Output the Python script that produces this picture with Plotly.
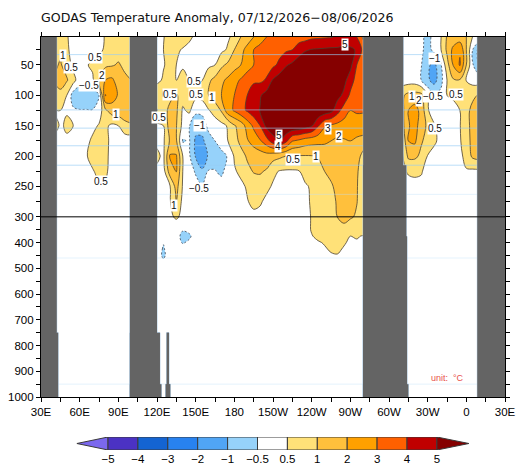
# GODAS equatorial temperature anomaly, longitude-depth section
import numpy as np
import plotly.graph_objects as go

TITLE = 'GODAS Temperature Anomaly, 07/12/2026−08/06/2026'
FONT = 'Liberation Sans'

# contour levels and the band colours between them (one more band than levels)
LEVELS = [-5, -4, -3, -2, -1, -0.5, 0.5, 1, 2, 3, 4, 5]
LEVEL_TEXT = ['−5', '−4', '−3', '−2', '−1', '−0.5', '0.5', '1', '2', '3', '4', '5']
BAND_COLORS = ['#7b68ee', '#4b32c3', '#1464d2', '#2882f0', '#50a5f5', '#96d2fa', '#ffffff',
               '#ffe178', '#ffc03c', '#ffa000', '#ff6000', '#c00000', '#850000']

# depth rows (m) shared by the three basins
DEPTHS = [4, 25, 50, 75, 100, 125, 150, 175, 200, 225, 250, 275,
          300, 325, 350, 375, 400, 425, 450, 475]
BOTTOM_DEPTH = 1000

INDIAN_LON = list(range(40, 105, 5))
INDIAN_Z = [
    [.7, .8, .55, .1, 0, 0, 0, .1, .55, .7, .7, .7, .7],
    [.8, .9, .6, .1, 0, 0, 0, .2, .6, .8, .8, .7, .7],
    [.9, 1.1, .8, .2, 0, .4, .6, .8, .9, .95, 1.1, .9, .8],
    [1.0, 1.3, 1.1, .7, -.1, -.2, .3, 1.0, 2.0, 2.2, 1.5, 1.2, 1.0],
    [.8, .9, .5, -.75, -.8, -.8, -.8, -.5, 3.05, 2.5, 1.9, 1.4, 1.3],
    [.5, .5, .45, -.35, -.45, -.45, -.45, -.1, .9, 1.5, 1.6, 1.8, 2.05],
    [.7, .4, .55, .5, 0, 0, .2, .55, .6, .3, .5, .8, .9],
    [.2, 0, .4, .35, 0, .2, .6, .8, .7, .1, 0, 0, 0],
    [0, 0, 0, 0, 0, .4, .7, .8, .65, .1, 0, 0, 0],
    [0, 0, 0, 0, 0, .1, .4, .65, .6, .1, 0, 0, 0],
    [0, 0, 0, 0, 0, 0, .1, .3, .3, 0, 0, 0, 0],
    [0, 0, 0, 0, 0, 0, 0, 0, 0, 0, 0, 0, 0],
]

PACIFIC_LON = list(range(120, 285, 5))
PACIFIC_Z = [
    [.3, .45, .7, .8, .8, .6, .3, .1, 0, .1, .2, .4, .6, 1.0, 1.5, 2.0, 2.6, 3.0, 3.2, 3.3,
     3.4, 3.5, 3.55, 3.6, 3.8, 3.85, 3.9, 3.95, 4.1, 4.3, 4.3, 4.0, 2.8],
    [.5, .5, .7, .6, .4, .2, .1, 0, 0, .1, .3, .55, 1.0, 1.7, 2.3, 3.0, 3.3, 3.5, 3.6, 3.7,
     3.85, 4.0, 4.5, 4.9, 5.05, 5.1, 5.15, 5.2, 5.2, 5.3, 5.2, 4.9, 3.7],
    [.2, .45, .6, .5, .3, 0, 0, .1, .3, .5, .9, 1.2, 1.6, 2.0, 2.5, 3.0, 3.4, 3.6, 3.8, 4.2,
     4.9, 5.2, 5.6, 5.8, 5.9, 5.9, 5.9, 5.8, 5.8, 5.7, 5.3, 4.0, 3.5],
    [.3, .55, .7, .45, .75, .5, .3, .48, .9, 1.3, 1.8, 2.2, 2.7, 3.1, 3.6, 3.85, 3.8, 4.1, 5.1, 5.6,
     5.8, 5.9, 6, 6, 6, 6, 6, 5.9, 5.7, 5.3, 4.5, 3.6, 3.3],
    [.8, .45, .8, 1.15, .7, .65, .65, .7, 1.0, 1.5, 2.0, 2.5, 3.0, 3.5, 4.0, 4.5, 4.9, 5.4, 5.8, 6,
     6, 6, 6, 6, 6, 6, 5.9, 5.7, 5.3, 4.8, 3.8, 3.2, 3.0],
    [1.05, .7, 1.4, 1.2, .35, .6, -.3, -.3, .42, .7, 1.1, 2.6, 3.1, 3.7, 4.1, 4.6, 5.05, 5.5, 5.8, 6,
     6, 6, 6, 5.9, 5.9, 5.8, 5.6, 5.3, 4.4, 3.5, 3.0, 3.1, 3.1],
    [.3, .5, 1.5, 1.05, .2, -.45, -.8, -.7, -.3, 0, .2, .55, .95, 1.4, 2.4, 3.2, 4.0, 5.3, 5.8, 5.9,
     5.9, 5.9, 5.8, 5.5, 5.1, 4.1, 3.1, 2.85, 2.7, 2.6, 2.95, 2.6, 2.5],
    [.3, .35, 1.1, 1.1, -.55, -.4, -1.2, -1.3, -.65, -.5, -.2, .5, .85, 1.2, 1.9, 2.4, 2.9, 3.6, 4.5, 5.0,
     4.3, 3.05, 2.8, 2.5, 2.4, 2.3, 2.2, 2.0, 1.8, 1.9, 2.0, 1.8, 1.7],
    [.6, .3, 2.1, 2.1, .5, -.35, -1.1, -1.5, -.95, -.7, -.6, -.45, .55, .85, 1.1, 1.4, 1.5, 1.6, 1.4, 1.2,
     1.0, .97, .97, .97, .98, 1.05, 1.3, 1.4, 1.5, 1.6, 1.6, 1.5, .8],
    [.3, .1, 1.5, 2.05, .5, -.1, -.55, -.95, -.4, -.45, -.6, -.1, .4, .6, .9, 1.05, 1.1, .95, .6, .45,
     .4, .4, .45, .65, .75, .85, 1.0, 1.2, 1.4, 1.5, 1.4, 1.1, .8],
    [0, 0, .4, 1.4, .4, 0, -.2, -.4, -.1, -.1, -.1, 0, .1, .3, .55, .8, .8, .6, .4, .2,
     .1, .1, .2, .4, .55, .65, .8, .95, 1.2, 1.4, 1.3, 1.05, .8],
    [0, 0, .4, 1.0, .2, 0, 0, -.1, 0, 0, 0, 0, 0, .1, .45, .6, .55, .3, .1, 0,
     0, 0, .1, .3, .55, .65, .75, .85, 1.1, 1.3, 1.25, 1.03, .8],
    [0, 0, .1, .65, 0, 0, 0, 0, 0, 0, 0, 0, 0, 0, .2, .3, .25, .1, 0, 0,
     0, 0, 0, .3, .52, .6, .7, .8, 1.02, 1.2, 1.1, .95, .8],
    [0, 0, 0, 0, 0, 0, 0, 0, 0, 0, 0, 0, 0, 0, 0, 0, 0, 0, 0, 0,
     0, 0, 0, .3, .52, .6, .65, .7, .8, 1.0, .9, .8, .7],
    [0, 0, 0, 0, -.4, -.2, 0, 0, 0, 0, 0, 0, 0, 0, 0, 0, 0, 0, 0, 0,
     0, 0, 0, .3, .52, .6, .65, .7, .75, .75, .7, .65, .65],
    [0, 0, 0, 0, -.7, -.6, 0, 0, 0, 0, 0, 0, 0, 0, 0, 0, 0, 0, 0, 0,
     0, 0, 0, .2, .47, .56, .6, .65, .65, .6, .5, .52, .47],
    [0, -.45, 0, 0, -.55, -.3, 0, 0, 0, 0, 0, 0, 0, 0, 0, 0, 0, 0, 0, 0,
     0, 0, 0, 0, .3, .45, .52, .6, .6, .53, .4, .45, .5],
    [0, -.55, 0, 0, 0, 0, 0, 0, 0, 0, 0, 0, 0, 0, 0, 0, 0, 0, 0, 0,
     0, 0, 0, 0, 0, .3, .45, .53, .55, .45, .2, .2, .3],
    [0, -.6, 0, 0, 0, 0, 0, 0, 0, 0, 0, 0, 0, 0, 0, 0, 0, 0, 0, 0,
     0, 0, 0, 0, 0, 0, .2, .45, .47, .3, 0, 0, 0],
    [0, -.3, 0, 0, 0, 0, 0, 0, 0, 0, 0, 0, 0, 0, 0, 0, 0, 0, 0, 0,
     0, 0, 0, 0, 0, 0, 0, 0, 0, 0, 0, 0, 0],
]

ATLANTIC_LON = list(range(310, 375, 5))
ATLANTIC_Z = [
    [0, 0, 0, -.3, -.65, -.2, .4, 1.1, 1.3, 1.4, 1.0, .45, .2],
    [0, 0, 0, -.3, -.7, -.2, .4, 1.2, 2.3, 2.9, 1.0, -.5, -1.4],
    [0, 0, 0, -.45, -.9, -1.3, -.6, .8, 2.1, 3.1, 1.0, -.4, -1.2],
    [0, 0, 0, -.5, -.9, -1.4, -.7, .5, .95, .95, .45, .1, 0],
    [.9, 1.3, 1.4, 1.3, .5, -.4, -.2, .5, .6, .6, .7, .9, 1.1],
    [.8, 2.0, 2.4, 1.7, .55, 0, 0, 0, .1, .5, .85, 1.3, 1.5],
    [.8, 1.9, 2.4, 1.5, .9, .55, .1, 0, 0, .45, .85, 1.3, 1.5],
    [.5, 2.0, 2.2, 1.1, .85, .6, .2, 0, 0, .4, .8, 1.3, 1.5],
    [.3, 1.2, 1.2, .9, .45, .1, 0, 0, 0, .2, .7, 1.2, 1.4],
    [.3, .55, .6, .55, .1, 0, 0, 0, 0, 0, .4, .3, .3],
    [0, .2, .2, .2, 0, 0, 0, 0, 0, 0, 0, 0, 0],
]

# land columns: west, east, top depth, bottom depth
LAND_W = [30, 30, 99, 99, 99, 127.5, 126.7, 280, 280, 280, 280, 368.5]
LAND_E = [42.2, 43.3, 120, 122.3, 123.4, 129.3, 130.3, 311, 313.4, 314, 315, 390]
LAND_TOP = [0, 750, 0, 750, 950, 750, 950, 0, 215, 375, 950, 0]
LAND_BOT = [1000, 1000, 1000, 1000, 1000, 1000, 1000, 1000, 1000, 1000, 1000, 1000]
LAND_COLOR = '#646464'
LAND_EDGE = '#b4cfe6'

# model levels that show up as pale lines across the section
PALE_DEPTHS = [33, 124, 154, 183, 215]
FAINT_DEPTHS = [263, 460, 950]

LABEL_LON = [47, 53.5, 72, 77.5, 67, 88, 121.5, 130, 148.7, 150, 162.6, 153, 152.5, 76.5, 133,
             265.8, 214.6, 213.9, 252.7, 261.2, 243.3, 225.5, 317.8, 323.3, 334, 335.7, 352, 336]
LABEL_DEPTH = [35, 54, 38, 67, 83, 132, 137, 98, 78, 99, 103, 149, 253, 241, 282,
               17, 166, 184, 154, 167, 201, 205, 102, 108, 102, 154, 99, 39]
LABEL_TEXT = ['1', '0.5', '0.5', '2', '−0.5', '1', '0.5', '0.5', '0.5', '0.5', '1', '−1', '−0.5', '0.5', '1',
              '5', '5', '4', '3', '2', '1', '0.5', '1', '2', '−0.5', '0.5', '0.5', '−1']

LON_TICKS = list(range(30, 405, 15))
LON_TEXT = ['30E', '', '60E', '', '90E', '', '120E', '', '150E', '', '180', '', '150W', '',
            '120W', '', '90W', '', '60W', '', '30W', '', '0', '', '30E']
DEPTH_TICKS = list(range(25, 325, 25)) + list(range(350, 1050, 50))
DEPTH_LABELLED = [50, 100, 150, 200, 250, 300, 400, 500, 600, 700, 800, 900, 1000]


def depth_y(d):
    """Depth is stretched above 300 m: the top 300 m take half of the panel."""
    d = np.asarray(d, dtype=float)
    return np.where(d <= 300, d, 300 + (d - 300) * 0.4236)


def level_index(z):
    """Plotly contours want even steps, so work on the position within LEVELS."""
    z = np.asarray(z, dtype=float)
    idx = np.interp(z, LEVELS, np.arange(len(LEVELS)))
    return np.where(z > LEVELS[-1], len(LEVELS) - 1 + z - LEVELS[-1], idx)


nb = len(BAND_COLORS)
scale = []
for i, c in enumerate(BAND_COLORS):
    scale += [[i / nb, c], [(i + 1) / nb, c]]

fig = go.Figure()
for lon, z in [(INDIAN_LON, INDIAN_Z), (PACIFIC_LON, PACIFIC_Z), (ATLANTIC_LON, ATLANTIC_Z)]:
    # the anomaly is nil down to the bottom of the panel
    y = depth_y(DEPTHS[:len(z)] + [BOTTOM_DEPTH])
    zi = level_index(z + [[0] * len(lon)])
    fig.add_trace(go.Contour(x=lon, y=y, z=zi, colorscale=scale, zmin=-1, zmax=len(LEVELS),
                             contours=dict(start=0, end=len(LEVELS) - 1, size=1, coloring='fill'),
                             line=dict(width=0), showscale=False, hoverinfo='skip'))
    fig.add_trace(go.Contour(x=lon, y=y, z=zi, contours=dict(start=6, end=11, size=1, coloring='none'),
                             line=dict(color='#4a4030', width=0.8), showscale=False, hoverinfo='skip'))
    fig.add_trace(go.Contour(x=lon, y=y, z=zi, contours=dict(start=0, end=5, size=1, coloring='none'),
                             line=dict(color='#404a58', width=0.8, dash='2px,2px'),
                             showscale=False, hoverinfo='skip'))

# colour key: pointed ends plus one box per band
n_lev = len(LEVELS)
for i, c in enumerate(BAND_COLORS):
    if i == 0:
        px, py = [0, 0, -1.04, 0], [0, 1, 0.5, 0]
    elif i == nb - 1:
        px, py = [n_lev - 1, n_lev - 1, n_lev + 0.07, n_lev - 1], [0, 1, 0.5, 0]
    else:
        px, py = [i - 1, i, i, i - 1, i - 1], [0, 0, 1, 1, 0]
    fig.add_trace(go.Scatter(x=px, y=py, mode='lines', fill='toself', fillcolor=c,
                             line=dict(color='#3a3a3a', width=1), xaxis='x2', yaxis='y2',
                             showlegend=False, hoverinfo='skip'))

shapes = []
for depths, col in [(PALE_DEPTHS, 'rgba(150,205,245,0.65)'), (FAINT_DEPTHS, 'rgba(190,225,250,0.4)')]:
    for d in depths:
        shapes.append(dict(type='line', xref='x', yref='y', x0=30, x1=390,
                           y0=float(depth_y(d)), y1=float(depth_y(d)), line=dict(color=col, width=1)))
# pale rim first, then the grey on top, so the steps of the coast do not show inside the land
for edge in (LAND_EDGE, None):
    for w, e, t, b in zip(LAND_W, LAND_E, LAND_TOP, LAND_BOT):
        shapes.append(dict(type='rect', xref='x', yref='y', x0=w, x1=e, y0=float(depth_y(t)), y1=float(depth_y(b)),
                           fillcolor=LAND_COLOR, line=dict(color=edge, width=1) if edge else dict(width=0)))
shapes.append(dict(type='line', xref='x', yref='y', x0=30, x1=393, y0=300, y1=300,
                   line=dict(color='black', width=1)))

annotations = [dict(x=x, y=float(depth_y(d)), text=t, showarrow=False, bgcolor='white', borderpad=0,
                    font=dict(family=FONT, size=10, color='#111'))
               for x, d, t in zip(LABEL_LON, LABEL_DEPTH, LABEL_TEXT)]
annotations.append(dict(x=345, y=float(depth_y(927)), text='unit:  °C', showarrow=False,
                        font=dict(family=FONT, size=9, color='#e8504a')))

axis_style = dict(showgrid=False, zeroline=False, showline=True, linecolor='black', linewidth=1.2,
                  mirror='ticks', ticks='outside', ticklen=4, tickwidth=1, tickcolor='black', automargin=False,
                  tickfont=dict(family=FONT, size=11.5, color='black'))
# the page body has an 8px margin, so the figure sits 8px in from the window corner
fig.update_layout(
    width=510, height=461, autosize=False, plot_bgcolor='white', paper_bgcolor='white', showlegend=False,
    margin=dict(l=33, r=13, t=29, b=9),
    title=dict(text=TITLE, x=33 / 510, xanchor='left', y=1 - 10 / 461, yanchor='middle',
               font=dict(family='DejaVu Sans', size=12.6, color='#111')),
    xaxis=dict(range=[30, 390], tickmode='array', tickvals=LON_TICKS, ticktext=LON_TEXT,
               domain=[0, 1], anchor='y', **axis_style),
    yaxis=dict(range=[float(depth_y(1000)), float(depth_y(4))], tickmode='array',
               tickvals=depth_y(DEPTH_TICKS).tolist(),
               ticktext=[str(d) if d in DEPTH_LABELLED else '' for d in DEPTH_TICKS],
               domain=[63 / 423, 1], anchor='x', **axis_style),
    xaxis2=dict(range=[(41 - 108) / 29.9, (505 - 108) / 29.9], domain=[0, 1], anchor='y2',
                tickmode='array', tickvals=list(range(n_lev)), ticktext=LEVEL_TEXT,
                ticks='', automargin=False,
                showgrid=False, zeroline=False, showline=False,
                tickfont=dict(family=FONT, size=11.5, color='black')),
    yaxis2=dict(range=[0, 1], domain=[10 / 423, 23 / 423], anchor='x2', visible=False),
    shapes=shapes, annotations=annotations,
)

fig.write_html("out.html")
